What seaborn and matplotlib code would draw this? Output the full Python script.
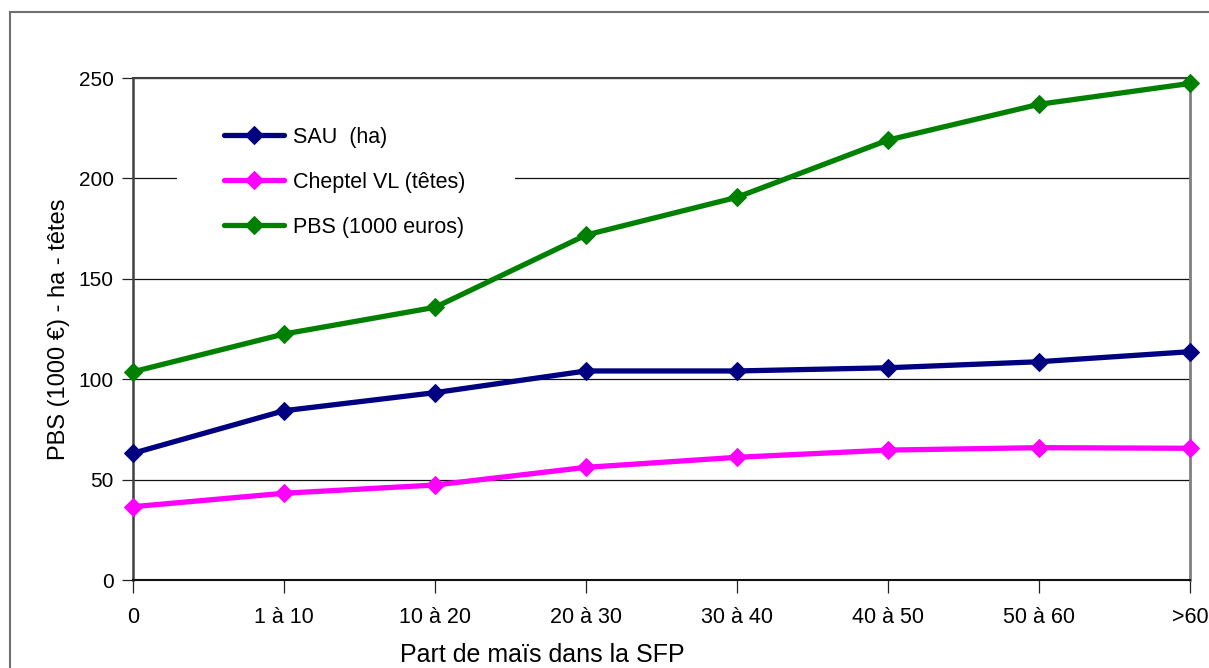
import numpy as np
import pandas as pd
import matplotlib
matplotlib.use("Agg")
import matplotlib.pyplot as plt
import matplotlib.patches as mpatches
import seaborn as sns

# data
categories = ["0", "1 à 10", "10 à 20", "20 à 30", "30 à 40", "40 à 50", "50 à 60", ">60"]
sau = [63.1, 84.3, 93.3, 104.1, 104.1, 105.7, 108.7, 113.7]
cheptel = [36.5, 43.2, 47.3, 56.1, 61.1, 64.7, 65.9, 65.6]
pbs = [103.7, 122.5, 135.8, 171.8, 190.6, 219.1, 236.9, 247.3]

series_names = ["SAU  (ha)", "Cheptel VL (têtes)", "PBS (1000 euros)"]
series_values = [sau, cheptel, pbs]
series_colors = ["#000080", "#FF00FF", "#008000"]

sns.set_theme(style="white")
plt.rcParams["font.family"] = ["Liberation Sans", "DejaVu Sans"]
plt.rcParams["text.color"] = "black"
plt.rcParams["axes.labelcolor"] = "black"
plt.rcParams["xtick.color"] = "black"
plt.rcParams["ytick.color"] = "black"

fig = plt.figure(figsize=(12.09, 6.68), dpi=100)
ax = fig.add_axes([133 / 1209, 88 / 668, 1057 / 1209, 502 / 668])

pos = np.arange(len(categories))
for name, vals, col in zip(series_names, series_values, series_colors):
    d = pd.DataFrame({"x": pos, "y": vals})
    sns.lineplot(data=d, x="x", y="y", ax=ax, color=col, linewidth=3.8,
                 marker="D", markersize=9, markeredgecolor=col, label=name,
                 clip_on=False, zorder=5)

ax.set_xlim(0, len(categories) - 1)
ax.set_ylim(0, 250)
ax.set_yticks([0, 50, 100, 150, 200, 250])
ax.set_xticks(pos)
ax.set_xticklabels(categories)
ax.grid(axis="y", color="#111111", linewidth=0.9)
ax.grid(axis="x", visible=False)
ax.set_axisbelow(True)

ax.tick_params(axis="x", direction="out", length=9.5, width=0.9, color="#222222",
               pad=10, labelsize=15.5, bottom=True)
ax.tick_params(axis="y", direction="out", length=8, width=0.9, color="#222222",
               pad=6, labelsize=15, left=True)

ax.set_xlabel("Part de maïs dans la SFP", fontsize=18, labelpad=12)
ax.xaxis.set_label_coords((542 - 133) / 1057, -0.125)
ax.set_ylabel("PBS (1000 €) - ha - têtes", fontsize=17, labelpad=6)

ax.spines["left"].set_color("#404040")
ax.spines["left"].set_linewidth(1.8)
ax.spines["bottom"].set_color("#111111")
ax.spines["bottom"].set_linewidth(1.5)
ax.spines["top"].set_color("#404040")
ax.spines["top"].set_linewidth(1.5)
ax.spines["right"].set_color("#808080")
ax.spines["right"].set_linewidth(2)

# white box behind the legend hiding the grid line
ax.add_patch(mpatches.Rectangle((44 / 1057, 0.66), 338 / 1057, 0.27,
                                transform=ax.transAxes, facecolor="white",
                                edgecolor="none", zorder=2))

ax.legend(loc="upper left", bbox_to_anchor=(0.078, 0.92), frameon=False,
          fontsize=15.5, handlelength=2.8, handletextpad=0.4, labelspacing=1.12,
          borderaxespad=0)

# outer chart frame
fig.patches.append(mpatches.Rectangle((10 / 1209, -0.1), 1.2, 1.1 - 12 / 668,
                                      transform=fig.transFigure, fill=False,
                                      edgecolor="#707070", linewidth=1.5))

fig.savefig("out.png", dpi=100)
